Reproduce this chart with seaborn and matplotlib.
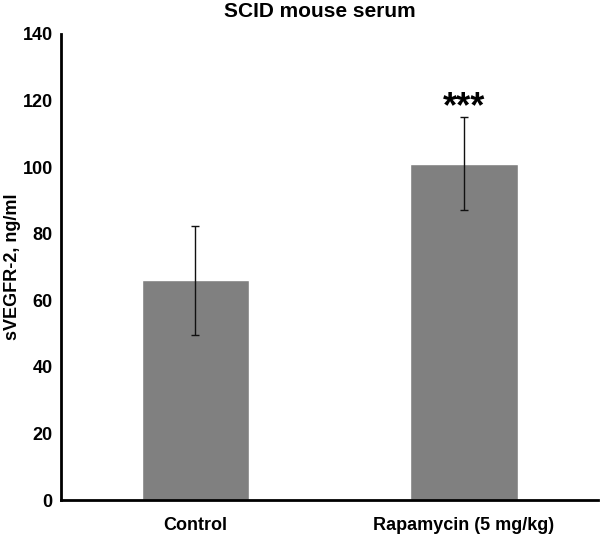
import matplotlib
matplotlib.use("Agg")
import matplotlib.pyplot as plt
import seaborn as sns
import pandas as pd

# ----------------------------
# Data
# ----------------------------
groups = ["Control", "Rapamycin (5 mg/kg)"]
means = [66.0, 101.0]
errors = [16.3, 14.0]
stars = ["", "***"]

df = pd.DataFrame({"group": groups, "value": means})

sns.set_style("white")
plt.rcParams["font.family"] = ["Liberation Sans", "DejaVu Sans"]
plt.rcParams["text.color"] = "black"
plt.rcParams["xtick.color"] = "black"
plt.rcParams["ytick.color"] = "black"
plt.rcParams["axes.labelcolor"] = "black"

fig = plt.figure(figsize=(6, 5.36), dpi=100)
ax = fig.add_axes([0.102, 0.067, 0.895, 0.87])

sns.barplot(x="group", y="value", data=df, color="#808080", saturation=1,
            width=0.4, errorbar=None, ax=ax)
ax.errorbar(range(len(groups)), means, yerr=errors, fmt="none",
            ecolor="#111111", elinewidth=1, capsize=3, capthick=1)

for i, s in enumerate(stars):
    if s:
        ax.text(i, means[i] + errors[i] - 2.5, s, ha="center", va="bottom",
                fontsize=26, fontweight="bold")

ax.set_xlim(-0.5, 1.5)
ax.set_ylim(0, 140)
ax.set_yticks(range(0, 141, 20))
ax.set_xticks(range(len(groups)))
ax.set_xticklabels(groups, fontsize=13, fontweight="bold")
ax.set_xticks([0.5, 1.5], minor=True)
ax.tick_params(axis="x", which="major", length=0, pad=12)
ax.tick_params(axis="x", which="minor", length=5, width=2, direction="out")
ax.tick_params(axis="y", length=4, width=2, direction="out", labelsize=13, pad=2)
for lab in ax.get_yticklabels():
    lab.set_fontweight("bold")

sns.despine(ax=ax)
for sp in ["left", "bottom"]:
    ax.spines[sp].set_linewidth(2)
    ax.spines[sp].set_color("black")

ax.set_xlabel("")
ax.set_ylabel("sVEGFR-2, ng/ml", fontsize=13, fontweight="bold")
ax.yaxis.set_label_coords(-0.075, 0.5)
fig.suptitle("SCID mouse serum", fontsize=15, fontweight="bold", x=0.533, y=0.996)

plt.savefig("out.png", dpi=100)
